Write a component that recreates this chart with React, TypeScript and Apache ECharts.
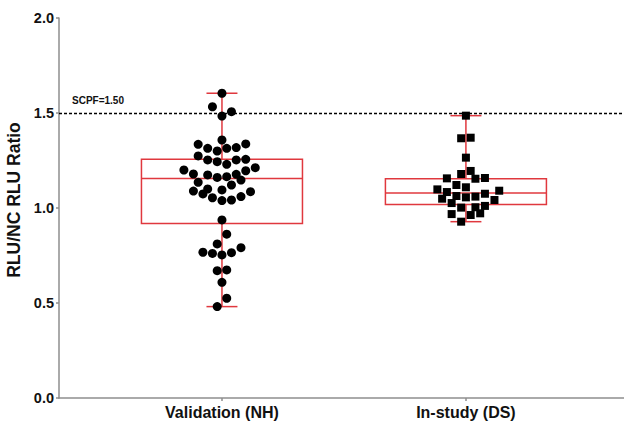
import React, { useEffect, useRef } from "react";
import * as echarts from "echarts";

const CATEGORIES = ["Validation (NH)", "In-study (DS)"];
const Y_TICKS = [0, 0.5, 1.0, 1.5, 2.0];
const THRESHOLD = 1.5;

// box stats: [min, Q1, median, Q3, max]
const BOX_VALIDATION = [0.481, 0.919, 1.155, 1.256, 1.604];
const BOX_INSTUDY = [0.928, 1.018, 1.079, 1.154, 1.486];

// Validation (NH) points: values and beeswarm slot
const VAL_Y = [
  1.604, 1.533, 1.507, 1.484, 1.358, 1.335, 1.314, 1.3, 1.314, 1.318, 1.337,
  1.274, 1.253, 1.244, 1.23, 1.253, 1.256, 1.2, 1.179, 1.174, 1.161, 1.165,
  1.177, 1.196, 1.212, 1.135, 1.147, 1.121, 1.089, 1.074, 1.1, 1.095, 1.086,
  1.054, 1.039, 1.042, 1.06, 0.937, 0.862, 0.811, 0.791, 0.767, 0.761, 0.753,
  0.765, 0.67, 0.674, 0.609, 0.525, 0.481,
];
const VAL_SLOT = [
  0, -1, 1, 0, 0, -2.5, -1.5, -0.5, 0.5, 1.5, 2.5, -2.5, -1.5, -0.5, 0.5, 1.5,
  2.5, -4, -3, -1.5, -0.5, 0.5, 1.5, 2.5, 3.5, -2.5, 2, 1, -3, -2, -1.5, 0, 3,
  -1, 0, 1, 2, 0, 0.5, -0.5, 2, -2, -1, 0, 1, -0.5, 0.5, 0, 0.5, -0.5,
];

// In-study (DS) points
const DS_Y = [
  1.486, 1.367, 1.37, 1.265, 1.179, 1.195, 1.156, 1.154, 1.158, 1.121, 1.109,
  1.098, 1.084, 1.075, 1.091, 1.049, 1.063, 1.056, 1.06, 1.042, 1.026, 1.002,
  1.004, 1.011, 0.968, 0.963, 0.972, 0.928,
];
const DS_SLOT = [
  0, -0.5, 0.5, 0, -0.5, 0.5, -2, 1, 2, -1, 0, -3, -2, 2, 3.5, -2.5, -1, 0, 1,
  3, -1.5, -0.5, 1, 2, -1.5, 0.5, 1.5, -0.5,
];

const STEP = 0.039;
const BOX_HALF = 0.33;
const CAP_HALF = 0.0635;
const RED = "#e0383e";
const AXIS = "#8e8e8e";
const FONT = "'Liberation Sans', Arial, sans-serif";

export default function App() {
  const ref = useRef<HTMLDivElement>(null);
  useEffect(() => {
    if (!ref.current) return;
    const chart = echarts.init(ref.current, null, { renderer: "svg" });

    const boxData = [
      [0, ...BOX_VALIDATION],
      [1, ...BOX_INSTUDY],
    ];
    const valPts = VAL_Y.map((y, i) => [0 + VAL_SLOT[i] * STEP, y]);
    const dsPts = DS_Y.map((y, i) => [1 + DS_SLOT[i] * STEP, y]);

    const renderBox = (params: any, api: any) => {
      const x = api.value(0);
      const mn = api.value(1);
      const q1 = api.value(2);
      const md = api.value(3);
      const q3 = api.value(4);
      const mx = api.value(5);
      const pL = api.coord([x - BOX_HALF, q3]);
      const pR = api.coord([x + BOX_HALF, q1]);
      const cL = api.coord([x - CAP_HALF, mx])[0];
      const cR = api.coord([x + CAP_HALF, mx])[0];
      const cx = api.coord([x, 0])[0];
      const yMin = api.coord([x, mn])[1];
      const yMax = api.coord([x, mx])[1];
      const yQ1 = api.coord([x, q1])[1];
      const yQ3 = api.coord([x, q3])[1];
      const yMd = api.coord([x, md])[1];
      const ls = { stroke: RED, lineWidth: 1.5, fill: "none" };
      return {
        type: "group",
        children: [
          { type: "rect", shape: { x: pL[0], y: pL[1], width: pR[0] - pL[0], height: pR[1] - pL[1] }, style: ls },
          { type: "line", shape: { x1: pL[0], y1: yMd, x2: pR[0], y2: yMd }, style: ls },
          { type: "line", shape: { x1: cx, y1: yQ3, x2: cx, y2: yMax }, style: ls },
          { type: "line", shape: { x1: cx, y1: yQ1, x2: cx, y2: yMin }, style: ls },
          { type: "line", shape: { x1: cL, y1: yMax, x2: cR, y2: yMax }, style: ls },
          { type: "line", shape: { x1: cL, y1: yMin, x2: cR, y2: yMin }, style: ls },
        ],
      };
    };

    chart.setOption({
      animation: false,
      grid: { left: 59, right: 0, top: 18, bottom: 24, containLabel: false, outerBoundsMode: "none" },
      xAxis: {
        type: "value",
        min: -0.668,
        max: 1.648,
        splitLine: { show: false },
        axisLine: { show: true, onZero: false, lineStyle: { color: AXIS, width: 1.5 } },
        axisTick: { show: true, customValues: [0, 1], length: 3, lineStyle: { color: AXIS, width: 1.5 } },
        axisLabel: {
          customValues: [0, 1],
          formatter: (v: number) => CATEGORIES[Math.round(v)] ?? "",
          color: "#111",
          fontWeight: "bold",
          fontSize: 16,
          fontFamily: FONT,
          margin: 6,
        },
      },
      yAxis: {
        type: "value",
        min: Y_TICKS[0],
        max: Y_TICKS[Y_TICKS.length - 1],
        interval: 0.5,
        name: "RLU/NC RLU Ratio",
        nameLocation: "middle",
        nameGap: 25,
        nameTextStyle: {
          color: "#111",
          fontWeight: "bold",
          fontSize: 17.5,
          fontFamily: FONT,
          padding: [0, 0, 0, 16],
        },
        splitLine: { show: false },
        axisLine: { show: true, onZero: false, lineStyle: { color: AXIS, width: 1.5 } },
        axisTick: { show: true, inside: false, length: 3, lineStyle: { color: AXIS, width: 1.5 } },
        axisLabel: {
          formatter: (v: number) => v.toFixed(1),
          color: "#111",
          fontWeight: "bold",
          fontSize: 14.5,
          fontFamily: FONT,
          margin: 5,
        },
      },
      series: [
        {
          type: "custom",
          renderItem: renderBox,
          data: boxData,
          encode: { x: 0, y: [1, 2, 3, 4, 5] },
          z: 1,
          silent: true,
          markLine: {
            silent: true,
            symbol: "none",
            lineStyle: { color: "#000", type: [3, 2], width: 1.3 },
            label: {
              show: true,
              position: "insideStartTop",
              formatter: `SCPF=${THRESHOLD.toFixed(2)}`,
              color: "#111",
              fontWeight: "bold",
              fontSize: 10,
              fontFamily: FONT,
              distance: [13, 8],
            },
            data: [{ yAxis: THRESHOLD }],
          },
        },
        {
          type: "scatter",
          data: valPts,
          symbol: "circle",
          symbolSize: 9,
          itemStyle: { color: "#000", opacity: 1 },
          z: 3,
        },
        {
          type: "scatter",
          data: dsPts,
          symbol: "rect",
          symbolSize: 8,
          itemStyle: { color: "#000", opacity: 1 },
          z: 3,
        },
      ],
    });
    return () => chart.dispose();
  }, []);
  return <div ref={ref} style={{ width: 624, height: 422, position: "absolute", left: 0, top: 0 }} />;
}
